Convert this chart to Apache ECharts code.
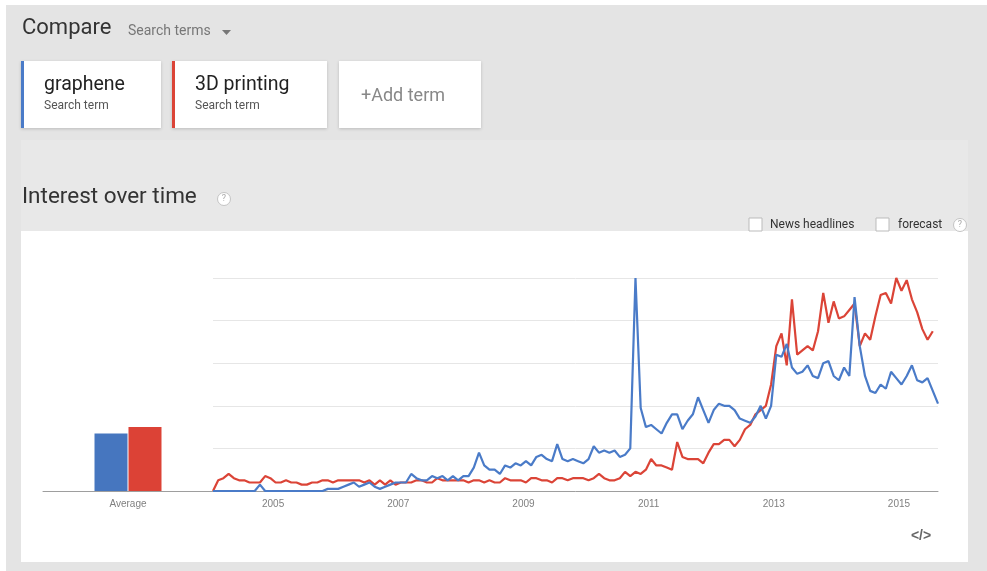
<!DOCTYPE html>
<html>
<head>
<meta charset="utf-8">
<script src="https://cdn.jsdelivr.net/npm/echarts@6/dist/echarts.min.js"></script>
<style>
html, body { margin: 0; padding: 0; background: #fff; }
#chart { width: 987px; height: 571px; }
</style>
</head>
<body>
<div id="chart"></div>
<script>
// search terms
const terms = ['graphene', '3D printing']
const colors = ['#4a7bc8', '#db4437']
// average interest
const averages = [27, 30]
// monthly interest, Jan 2004 .. Aug 2015
const startYear = 2004
const graphene = [
    0, 0, 0, 0, 0, 0, 0, 0, 0, 3,
    0, 0, 0, 0, 0, 0, 0, 0, 0, 0,
    0, 0, 1, 1, 1, 2, 3, 4, 2, 3,
    4, 2, 1, 2, 3,
    4, 4, 4, 8, 6, 5, 5, 7, 6, 7,
    5, 7, 5, 7, 7, 11, 18, 12, 10, 10,
    8, 12, 11, 13, 12, 14, 12, 16, 17, 15,
    14, 22, 15,
    14, 15, 14, 13, 15, 21, 18, 19, 18, 19,
    16, 17, 20, 100, 39, 30, 31, 29, 27, 32,
    36, 36, 29, 33, 36, 44, 38, 32, 38, 41,
    40, 40, 38, 34,
    33, 32, 35, 40, 34, 40, 64, 63, 69, 58,
    55, 56, 59, 54, 53, 60, 61, 54, 52, 58,
    54, 91, 68, 54, 47, 46, 50, 48, 56, 53,
    50, 54, 59, 52, 51, 53, 47, 41
]
const printing3d = [
    0, 5, 6, 8, 6, 5, 5, 4, 4, 4,
    7, 6, 4, 4, 5, 4, 4, 3, 3, 4,
    4, 5, 5, 4, 5, 5, 5, 5, 5, 4,
    5, 3, 5, 3, 5,
    3, 4, 4, 4, 5, 5, 4, 4, 6, 5,
    5, 5, 5, 5, 4, 5, 5, 4, 5, 4,
    4, 6, 5, 5, 5, 4, 6, 6, 5, 5,
    4, 6,
    6, 5, 6, 6, 6, 5, 6, 8, 6, 5,
    5, 6, 9, 7, 9, 8, 10, 15, 12, 12,
    11, 10, 23, 16, 15, 15, 15, 13, 18, 22,
    22, 24, 24, 21,
    24, 29, 31, 36, 38, 40, 50, 68, 74, 59,
    90, 64, 66, 68, 66, 75, 93, 79, 89, 81,
    82, 85, 88, 68, 74, 71, 82, 92, 93, 88,
    100, 94, 99, 90, 84, 76, 71, 75
]
const labelYears = ['2005', '2007', '2009', '2011', '2013', '2015']

let months = []
for (let i = 0; i < graphene.length; i++) {
    let y = startYear + Math.floor(i / 12)
    let m = i % 12 + 1
    months.push(y + '-' + (m < 10 ? '0' + m : m))
}

const font = 'Roboto, "Liberation Sans", Arial, sans-serif'
const labelFont = 'Arial, "Liberation Sans", sans-serif'

function txt(x, y, text, size, color) {
    return {
        type: 'text', x: x, y: y,
        style: { text: text, font: size + 'px ' + font, fill: color, verticalAlign: 'middle' }
    }
}
function card(x, w, stripe) {
    let items = [{
        type: 'rect', shape: { x: x, y: 61, width: w, height: 67 },
        style: { fill: '#fff', shadowBlur: 3, shadowColor: 'rgba(0,0,0,0.18)', shadowOffsetY: 1 }
    }]
    if (stripe) {
        items.push({ type: 'rect', shape: { x: x, y: 61, width: 3, height: 67 }, style: { fill: stripe } })
    }
    return items
}
function help(cx, cy) {
    return [
        { type: 'circle', shape: { cx: cx, cy: cy, r: 6.5 }, style: { fill: '#fff', stroke: '#c4c4c4', lineWidth: 1 } },
        { type: 'text', x: cx, y: cy, style: { text: '?', font: '9px ' + font, fill: '#aaa', align: 'center', verticalAlign: 'middle' } }
    ]
}

let graphics = [
    { type: 'rect', shape: { x: 6, y: 5, width: 981, height: 566 }, style: { fill: '#e4e4e4' }, z: -10 },
    { type: 'rect', shape: { x: 21, y: 140, width: 947, height: 91 }, style: { fill: '#e8e8e8' }, z: -9 },
    { type: 'rect', shape: { x: 21, y: 231, width: 947, height: 331 }, style: { fill: '#fff' }, z: -9 },
    txt(22, 28, 'Compare', 22, '#333'),
    txt(128, 31, 'Search terms', 14, '#777'),
    { type: 'polygon', shape: { points: [[222, 30], [231, 30], [226.5, 35]] }, style: { fill: '#777' } }
]
graphics = graphics.concat(card(21, 140, colors[0]), card(172, 155, colors[1]), card(339, 142, null))
graphics.push(
    txt(44, 85, terms[0], 19.5, '#222'),
    txt(44, 106, 'Search term', 12, '#555'),
    txt(195, 85, terms[1], 19.5, '#222'),
    txt(195, 106, 'Search term', 12, '#555'),
    txt(361, 96, '+Add term', 18, '#888'),
    txt(22, 197, 'Interest over time', 22.5, '#333'),
    { type: 'rect', shape: { x: 749, y: 218, width: 13, height: 13 }, style: { fill: '#fff', stroke: '#bbb' } },
    txt(770, 225, 'News headlines', 12, '#333'),
    { type: 'rect', shape: { x: 876, y: 218, width: 13, height: 13 }, style: { fill: '#fff', stroke: '#bbb' } },
    txt(898, 225, 'forecast', 12, '#333'),
    { type: 'text', x: 921, y: 536, style: { text: '</>', font: 'bold 14px ' + labelFont, fill: '#666', align: 'center', verticalAlign: 'middle' } }
)
graphics = graphics.concat(help(224, 199), help(960, 225))

let myChart = echarts.init(document.getElementById('chart'))
let option = {
    animation: false,
    backgroundColor: '#fff',
    graphic: graphics,
    grid: [
        { left: 43, top: 278, width: 170, height: 213 },
        { left: 213, top: 278, width: 725, height: 213 }
    ],
    xAxis: [
        {
            type: 'category',
            gridIndex: 0,
            data: ['Average'],
            axisLine: { lineStyle: { color: '#9e9e9e' } },
            axisTick: { show: false },
            axisLabel: { color: '#808080', fontSize: 10, fontFamily: labelFont, margin: 8 }
        },
        {
            type: 'category',
            gridIndex: 1,
            data: months,
            boundaryGap: false,
            axisLine: { lineStyle: { color: '#9e9e9e' } },
            axisTick: { show: false },
            axisLabel: {
                color: '#808080', fontSize: 10, fontFamily: labelFont, margin: 8,
                padding: [0, 5, 0, 0],
                interval: (idx, val) => val.slice(5) === '01' && labelYears.indexOf(val.slice(0, 4)) >= 0,
                formatter: val => val.slice(0, 4)
            }
        }
    ],
    yAxis: [
        { type: 'value', gridIndex: 0, min: 0, max: 100, show: false },
        {
            type: 'value',
            gridIndex: 1,
            min: 0,
            max: 100,
            interval: 20,
            axisLabel: { show: false },
            axisLine: { show: false },
            axisTick: { show: false },
            splitLine: { lineStyle: { color: '#e6e6e6' } }
        }
    ],
    series: [
        {
            name: terms[0], type: 'bar', xAxisIndex: 0, yAxisIndex: 0,
            barWidth: 33, barGap: '3%',
            itemStyle: { color: '#4676bf' },
            data: [averages[0]]
        },
        {
            name: terms[1], type: 'bar', xAxisIndex: 0, yAxisIndex: 0,
            barWidth: 33, barGap: '3%',
            itemStyle: { color: '#dc4236' },
            data: [averages[1]]
        },
        {
            name: terms[1], type: 'line', xAxisIndex: 1, yAxisIndex: 1,
            showSymbol: false,
            lineStyle: { width: 2.2, color: colors[1] },
            data: printing3d
        },
        {
            name: terms[0], type: 'line', xAxisIndex: 1, yAxisIndex: 1,
            showSymbol: false,
            lineStyle: { width: 2.2, color: colors[0] },
            data: graphene
        }
    ]
}
myChart.setOption(option)
</script>
</body>
</html>
